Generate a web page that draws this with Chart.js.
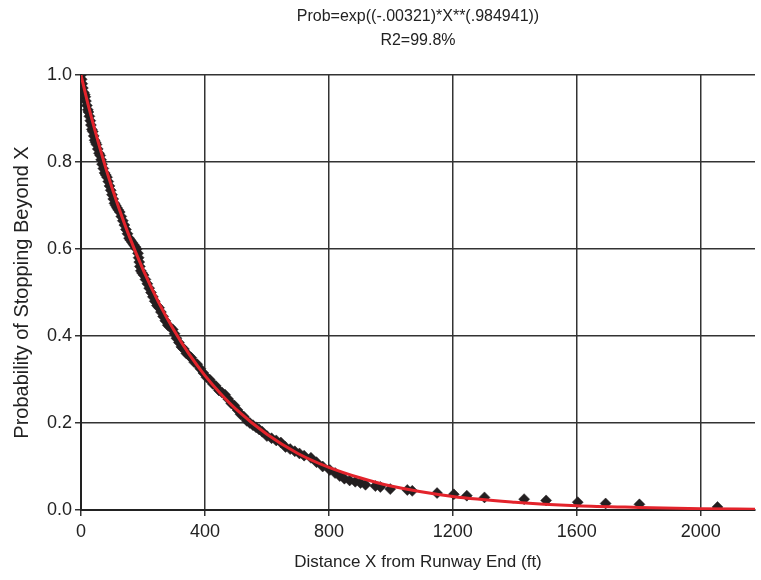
<!DOCTYPE html>
<html lang="en">
<head>
  <meta charset="UTF-8">
  <title>Probability of Stopping Beyond X</title>
  <style>
    body { margin: 0; background: #fff; }
    canvas { display: block; }
  </style>
  <script src="https://cdn.jsdelivr.net/npm/chart.js@4.4.1/dist/chart.umd.min.js"></script>
</head>
<body>
  <canvas id="myChart" width="761" height="580"></canvas>
  <script>
    // tick labels
    const xTicks = [0, 400, 800, 1200, 1600, 2000];
    const yTicks = [0, 0.2, 0.4, 0.6, 0.8, 1.0];

    // observed points (distance ft, probability)
    const obsX = [0, 2, 4, 6, 9, 12, 14, 16, 19, 22, 24, 27, 30, 32, 35, 38, 41, 44, 47, 50,
      54, 58, 62, 65, 68, 72, 76, 80, 84, 88, 92, 96, 100, 104, 108, 112, 116, 120, 125, 130,
      135, 140, 145, 150, 155, 160, 165, 170, 175, 180, 184, 186, 188, 190, 193, 197, 202, 208, 214, 220,
      226, 232, 238, 245, 252, 258, 265, 272, 280, 288, 296, 302, 308, 316, 324, 332, 340, 348, 356, 365,
      375, 385, 395, 405, 415, 425, 435, 445, 455, 465, 475, 485, 495, 505, 515, 525, 535, 545, 555, 565,
      575, 585, 600, 615, 630, 645, 660, 675, 690, 705, 720, 742, 760, 780, 803, 820, 835, 850, 867, 885,
      902, 918, 950, 966, 998, 1053, 1069, 1149, 1203, 1245, 1302, 1430, 1501, 1603, 1693, 1802, 2054];
    const obsY = [1.00, 0.99, 0.98, 0.97, 0.96, 0.955, 0.95, 0.94, 0.93, 0.92, 0.915, 0.905, 0.895, 0.885, 0.875, 0.87, 0.86, 0.85, 0.845, 0.84,
      0.83, 0.82, 0.815, 0.805, 0.795, 0.785, 0.775, 0.77, 0.765, 0.755, 0.745, 0.735, 0.725, 0.715, 0.705, 0.70, 0.695, 0.69, 0.685, 0.675,
      0.665, 0.655, 0.645, 0.635, 0.625, 0.62, 0.615, 0.61, 0.605, 0.60, 0.59, 0.58, 0.57, 0.56, 0.55, 0.545, 0.54, 0.53, 0.52, 0.51,
      0.50, 0.49, 0.48, 0.47, 0.465, 0.455, 0.445, 0.435, 0.425, 0.42, 0.415, 0.405, 0.395, 0.385, 0.375, 0.37, 0.36, 0.355, 0.35, 0.34,
      0.335, 0.325, 0.315, 0.305, 0.30, 0.29, 0.285, 0.275, 0.27, 0.265, 0.255, 0.245, 0.24, 0.23, 0.22, 0.215, 0.205, 0.20, 0.195, 0.19,
      0.185, 0.18, 0.17, 0.165, 0.16, 0.155, 0.145, 0.14, 0.135, 0.13, 0.125, 0.12, 0.11, 0.10, 0.092, 0.085, 0.078, 0.072, 0.068, 0.065,
      0.062, 0.058, 0.055, 0.053, 0.048, 0.046, 0.044, 0.039, 0.036, 0.033, 0.029, 0.025, 0.022, 0.018, 0.015, 0.013, 0.007];

    // fitted curve, values
    const fitX = [0, 25, 50, 75, 100, 150, 200, 250, 300, 350, 400, 450, 500, 600, 700, 800, 900, 1000, 1200, 1400, 1600, 1800, 2000, 2175];
    const fitY = [1.000, 0.926, 0.860, 0.798, 0.741, 0.640, 0.553, 0.478, 0.413, 0.357, 0.309, 0.268, 0.232, 0.174, 0.130, 0.098, 0.074, 0.055, 0.031, 0.018, 0.010, 0.006, 0.003, 0.002];

    const titleLines = ['Prob=exp((-.00321)*X**(.984941))', 'R2=99.8%'];
    const FONT = "'Liberation Sans', Arial, sans-serif";
    const gridColor = '#333';

    const ctx = document.getElementById('myChart').getContext('2d');
    const myChart = new Chart(ctx, {
      type: 'scatter',
      data: {
        datasets: [
          {
            label: 'fit',
            data: fitX.map((x, i) => ({ x: x, y: fitY[i] })),
            showLine: true,
            borderColor: '#e3232b',
            borderWidth: 3,
            pointRadius: 0,
            cubicInterpolationMode: 'monotone',
            order: 0
          },
          {
            label: 'observed',
            data: obsX.map((x, i) => ({ x: x, y: obsY[i] })),
            pointStyle: 'rectRot',
            pointRadius: 5.5,
            backgroundColor: '#231f20',
            borderColor: '#231f20',
            borderWidth: 0.5,
            order: 1
          }
        ]
      },
      options: {
        responsive: false,
        animation: false,
        devicePixelRatio: 1,
        layout: { padding: 0 },
        plugins: {
          legend: { display: false },
          tooltip: { enabled: false },
          title: {
            display: true,
            text: titleLines,
            fullSize: false,
            color: '#222',
            font: { family: FONT, size: 16, weight: 'normal', lineHeight: 1.5 },
            padding: { top: 5, bottom: 22 }
          }
        },
        scales: {
          x: {
            type: 'linear',
            min: 0,
            max: 2175,
            afterFit: s => { s.height = 70; },
            afterBuildTicks: s => { s.ticks = xTicks.map(v => ({ value: v })); },
            ticks: {
              color: '#222',
              font: { family: FONT, size: 18 },
              padding: 5,
              maxRotation: 0,
              callback: v => String(v)
            },
            grid: { color: gridColor, lineWidth: 1.5, tickLength: 6, tickColor: gridColor },
            border: { color: '#222', width: 2 },
            title: {
              display: true,
              text: 'Distance X from Runway End (ft)',
              color: '#222',
              font: { family: FONT, size: 17 },
              padding: { top: 0, bottom: 7 }
            }
          },
          y: {
            min: 0,
            max: 1,
            afterFit: s => { s.width = 81; },
            afterBuildTicks: s => { s.ticks = yTicks.map(v => ({ value: v })); },
            ticks: {
              color: '#222',
              font: { family: FONT, size: 18 },
              padding: 3,
              callback: v => v.toFixed(1)
            },
            grid: { color: gridColor, lineWidth: 1.5, tickLength: 6, tickColor: gridColor },
            border: { color: '#222', width: 2 },
            title: {
              display: true,
              text: 'Probability of Stopping Beyond X',
              color: '#222',
              font: { family: FONT, size: 20 },
              padding: { top: 10, bottom: 0 }
            }
          }
        }
      }
    });
  </script>
</body>
</html>
